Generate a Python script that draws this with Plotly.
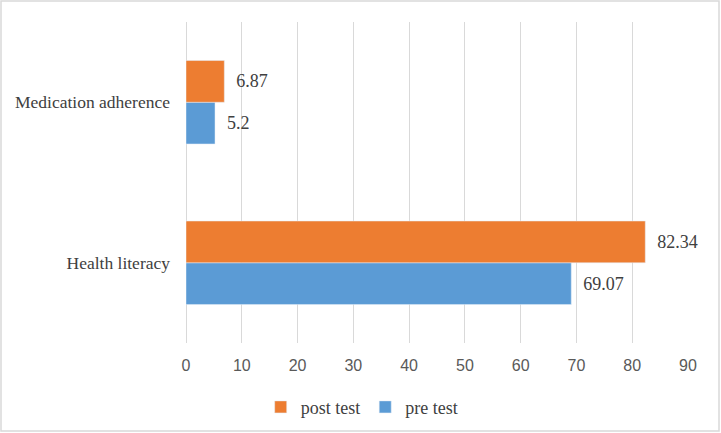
import plotly.graph_objects as go

categories = ["Health literacy", "Medication adherence"]
pre_test = [69.07, 5.2]
post_test = [82.34, 6.87]
x_ticks = [0, 10, 20, 30, 40, 50, 60, 70, 80, 90]

serif = "Liberation Serif"
sans = "Liberation Sans"

fig = go.Figure()
fig.add_trace(go.Bar(
    y=categories, x=pre_test, orientation="h", name="pre test",
    marker=dict(color="#5B9BD5"),
    text=[f"  {v:g}" for v in pre_test], textposition="outside",
    textfont=dict(family=serif, size=18, color="#404040"), cliponaxis=False,
))
fig.add_trace(go.Bar(
    y=categories, x=post_test, orientation="h", name="post test",
    marker=dict(color="#ED7D31"),
    text=[f"  {v:g}" for v in post_test], textposition="outside",
    textfont=dict(family=serif, size=18, color="#404040"), cliponaxis=False,
))

L, R, T, B = 186, 33, 22, 90
W, H = 721, 433
pw, ph = W - L - R, H - T - B

fig.update_layout(
    width=W, height=H,
    margin=dict(l=L, r=R, t=T, b=B, autoexpand=False),
    paper_bgcolor="white", plot_bgcolor="white",
    barmode="group", bargap=0.48, bargroupgap=0,
    showlegend=True,
    legend=dict(orientation="h", x=0.35, xanchor="center", y=-0.2, yanchor="middle",
                traceorder="reversed", font=dict(family=serif, size=18, color="#404040"),
                itemwidth=30),
    xaxis=dict(range=[0, 90], tickvals=x_ticks, showgrid=True, gridcolor="#D9D9D9",
               zeroline=True, zerolinecolor="#D9D9D9", zerolinewidth=1, automargin=False,
               showline=False, ticks="outside", ticklen=8,
               tickcolor="rgba(0,0,0,0)", tickfont=dict(family=sans, size=16, color="#595959")),
    yaxis=dict(showgrid=False, zeroline=False, showline=False, ticks="", automargin=False,
               ticklabelstandoff=15, tickfont=dict(family=serif, size=17.5, color="#404040")),
    shapes=[dict(type="rect", xref="paper", yref="paper",
                 x0=(1 - L) / pw, x1=(W - 2 - L) / pw,
                 y0=(H - B - (H - 2)) / ph, y1=(H - B - 1) / ph,
                 line=dict(color="#D9D9D9", width=1.5), fillcolor="rgba(0,0,0,0)")],
)

fig.write_html("out.html")
